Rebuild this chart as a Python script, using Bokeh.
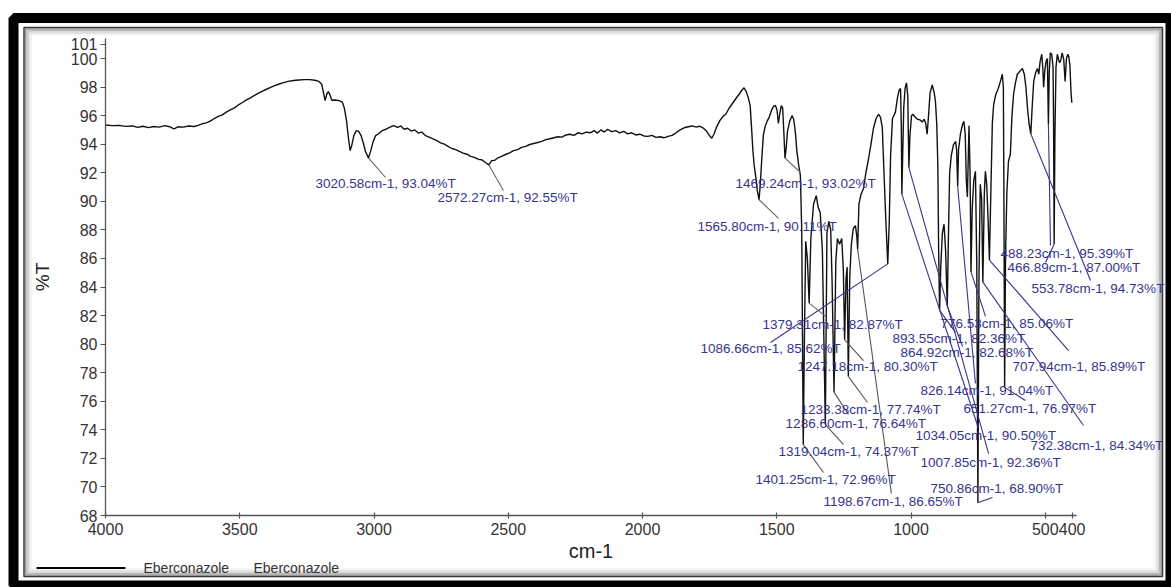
from bokeh.plotting import figure
from bokeh.models import Range1d, FixedTicker, BoxAnnotation, Label, LabelSet, ColumnDataSource
from bokeh.core.properties import value
from bokeh.embed import file_html
from bokeh.resources import INLINE

# Recorded trace of the spectrum (wavenumber in cm-1, transmittance in %T)
trace_wn = [4000, 3975, 3950, 3925, 3900, 3880, 3860, 3840, 3820, 3800, 3780, 3760, 3745, 3730, 3710,
            3690, 3670, 3655, 3640, 3625, 3610, 3595, 3580, 3565, 3550, 3535, 3520, 3505, 3490, 3475,
            3460, 3445, 3430, 3415, 3400, 3385, 3370, 3355, 3340, 3320, 3300, 3280, 3260, 3240, 3220,
            3205, 3195, 3188, 3182, 3176, 3170, 3164, 3157, 3145, 3130, 3118, 3110, 3102, 3095, 3089,
            3083, 3075, 3066, 3057, 3048, 3040, 3032, 3012, 3003, 2994, 2982, 2970, 2955, 2940, 2927,
            2912, 2900, 2888, 2875, 2862, 2848, 2835, 2822, 2808, 2795, 2780, 2766, 2752, 2738, 2724,
            2710, 2696, 2682, 2668, 2654, 2640, 2626, 2612, 2598, 2585, 2562, 2550, 2538, 2525, 2510,
            2495, 2480, 2465, 2450, 2435, 2420, 2405, 2390, 2375, 2360, 2345, 2330, 2315, 2300, 2285,
            2270, 2255, 2240, 2225, 2210, 2195, 2180, 2168, 2155, 2142, 2130, 2115, 2100, 2085, 2070,
            2055, 2040, 2025, 2010, 1995, 1980, 1965, 1950, 1935, 1920, 1905, 1890, 1875, 1860, 1845,
            1830, 1815, 1800, 1788, 1775, 1763, 1752, 1742, 1734, 1724, 1712, 1700, 1690, 1678, 1665,
            1652, 1640, 1630, 1622, 1614, 1606, 1599, 1594, 1589, 1584, 1578, 1572, 1561, 1556, 1550,
            1544, 1536, 1528, 1520, 1512, 1505, 1499, 1494, 1489, 1483, 1478, 1474, 1465, 1460, 1452,
            1443, 1437, 1431, 1425, 1418, 1412, 1407, 1397, 1392, 1386, 1373, 1363, 1353, 1346, 1338,
            1330, 1313, 1306, 1299, 1294, 1280, 1274, 1266, 1258, 1252, 1242, 1238, 1228, 1222, 1215,
            1207, 1202, 1194, 1186, 1177, 1168, 1158, 1149, 1140, 1130, 1121, 1114, 1107, 1101, 1094,
            1081, 1076, 1069, 1058, 1050, 1044, 1039, 1036, 1031, 1027, 1022, 1017, 1012, 1010, 1004,
            998, 993, 985, 976, 966, 958, 951, 945, 940, 935, 929, 921, 914, 909, 904,
            900, 897, 889, 883, 877, 871, 860, 856, 850, 842, 834, 830, 823, 816, 808,
            803, 798, 794, 790, 787, 784, 780, 772, 766, 760, 755, 747, 742, 737, 727,
            723, 718, 713, 702, 697, 692, 684, 675, 667, 660, 656, 654, 648, 643, 637,
            630, 624, 618, 611, 604, 595, 585, 578, 572, 566, 560, 549, 543, 536, 529,
            524, 519, 513, 509, 506, 502, 497, 492, 485, 481, 476, 471, 469, 464, 460,
            455, 450, 446, 442, 437, 431, 426, 421, 416, 412, 408, 404, 401]
trace_t = [95.35, 95.30, 95.32, 95.25, 95.28, 95.18, 95.26, 95.16, 95.24, 95.20, 95.30, 95.22, 95.08, 95.22, 95.20,
           95.28, 95.24, 95.32, 95.42, 95.50, 95.62, 95.80, 95.95, 96.05, 96.25, 96.40, 96.55, 96.75, 96.92, 97.10,
           97.25, 97.42, 97.58, 97.72, 97.85, 97.98, 98.10, 98.20, 98.30, 98.40, 98.46, 98.50, 98.52, 98.52, 98.48,
           98.40, 98.22, 97.60, 97.05, 97.50, 97.68, 97.45, 97.08, 97.10, 97.05, 96.95, 96.50, 95.60, 94.40, 93.55,
           93.90, 94.60, 94.95, 94.90, 94.60, 94.10, 93.50, 93.55, 94.20, 94.60, 94.75, 94.95, 95.05, 95.20, 95.30,
           95.18, 95.28, 95.05, 95.12, 94.92, 95.00, 94.78, 94.85, 94.60, 94.50, 94.38, 94.25, 94.10, 94.00, 93.85,
           93.70, 93.62, 93.50, 93.38, 93.30, 93.15, 93.08, 92.95, 92.90, 92.72, 92.85, 92.88, 93.05, 93.15, 93.28,
           93.40, 93.55, 93.62, 93.78, 93.85, 93.98, 94.05, 94.12, 94.20, 94.32, 94.38, 94.45, 94.52, 94.50, 94.65,
           94.70, 94.62, 94.80, 94.72, 94.85, 94.80, 94.95, 94.78, 95.00, 94.85, 95.05, 94.88, 94.95, 94.80, 94.90,
           94.72, 94.80, 94.65, 94.70, 94.58, 94.55, 94.62, 94.48, 94.52, 94.45, 94.55, 94.62, 94.80, 95.00, 95.15,
           95.22, 95.28, 95.20, 95.26, 95.15, 94.95, 94.65, 94.42, 94.70, 95.20, 95.65, 95.95, 96.10, 96.50, 96.85,
           97.20, 97.50, 97.78, 97.95, 97.70, 97.25, 96.70, 95.20, 93.60, 92.50, 91.70, 90.70, 91.30, 92.90, 94.60,
           95.20, 95.60, 95.90, 96.35, 96.65, 96.72, 96.40, 95.45, 96.10, 96.70, 96.55, 95.00, 93.70, 94.90, 95.60,
           96.00, 95.75, 94.90, 93.50, 92.50, 91.80, 88.00, 80.50, 87.20, 86.00, 87.40, 89.80, 90.40, 89.60, 89.20,
           86.50, 87.80, 88.60, 88.00, 84.50, 85.80, 87.40, 87.00, 87.40, 85.20, 84.60, 85.40, 84.80, 87.00, 88.10,
           88.30, 87.60, 89.80, 90.50, 90.90, 92.00, 93.00, 94.00, 95.10, 95.80, 96.10, 95.90, 95.20, 92.20, 88.80,
           88.50, 93.20, 95.80, 96.25, 97.30, 97.80, 97.90, 95.20, 93.20, 96.60, 97.90, 98.30, 97.40, 94.80, 94.60,
           96.00, 96.10, 95.90, 95.75, 95.70, 95.55, 95.75, 95.45, 94.70, 95.90, 97.60, 98.15, 97.65, 97.00, 95.40,
           92.50, 86.50, 85.50, 87.80, 88.40, 86.50, 88.20, 92.00, 93.20, 93.95, 94.20, 93.60, 93.60, 94.70, 95.40,
           95.60, 94.70, 91.50, 90.30, 92.80, 95.30, 92.00, 89.50, 91.50, 92.10, 85.50, 84.50, 91.20, 90.20, 90.50,
           92.10, 91.20, 88.80, 91.20, 95.50, 96.80, 97.50, 97.90, 98.40, 98.90, 98.00, 90.50, 86.00, 90.60, 92.80,
           93.30, 96.00, 97.50, 98.30, 98.90, 99.10, 99.30, 98.90, 98.00, 96.50, 95.40, 96.50, 98.40, 99.00, 99.30,
           98.90, 99.80, 100.30, 99.30, 98.00, 99.10, 99.80, 100.00, 99.10, 100.40, 100.30, 99.40, 95.50, 94.50, 99.40,
           100.30, 99.90, 99.70, 99.90, 100.40, 99.90, 98.40, 100.00, 100.30, 100.10, 99.50, 97.60, 96.90]

# Labelled absorption minima
peak_wn = [3020.58, 2572.27, 1469.24, 1565.80, 1379.31, 1086.66, 1247.18, 1233.38, 1286.60,
           1319.04, 1401.25, 1198.67, 776.53, 893.55, 864.92, 707.94, 826.14, 651.27,
           1034.05, 732.38, 1007.85, 750.86, 488.23, 466.89, 553.78]
peak_t = [93.04, 92.55, 93.02, 90.11, 82.87, 85.62, 80.30, 77.74, 76.64,
          74.37, 72.96, 86.65, 85.06, 82.36, 82.68, 85.89, 91.04, 76.97,
          90.50, 84.34, 92.36, 68.90, 95.39, 87.00, 94.73]

x_ticks = [4000, 3500, 3000, 2500, 2000, 1500, 1000, 500, 400]
y_ticks = [68, 70, 72, 74, 76, 78, 80, 82, 84, 86, 88, 90, 92, 94, 96, 98, 100, 101]

series_name = "Eberconazole"

# Placement of each peak caption (text anchor) and the end of its leader line, in data units
label_x = [3218, 2763.5, 1654, 1795, 1553, 1784, 1423, 1411.5, 1467, 1493.5, 1579, 1326,
           890, 1069, 1039, 622, 965, 804.5, 983, 555, 965, 927.4, 667, 641, 551]
label_y = [91.25, 90.27, 91.25, 88.24, 81.38, 79.69, 78.43, 75.42, 74.44, 72.48, 70.52, 68.98,
           81.45, 80.39, 79.41, 78.43, 76.75, 75.49, 73.60, 72.90, 71.71, 69.89, 86.35, 85.37, 83.90]
lead_x = [2957, 2518, 1411.5, 1493.5, 1318, 1523, 1177, 1162, 1233, 1251, 1326, 1073,
          722.5, 834, 808, 413, 760, 573.6, 748.6, 357.5, 711, 696.5, 480.5, 499, 331.5]
lead_y = [91.67, 90.76, 92.02, 88.80, 81.94, 80.11, 78.85, 75.91, 75.07, 72.97, 71.01, 69.54,
          81.94, 80.82, 79.83, 79.55, 77.24, 76.05, 74.09, 74.30, 72.34, 69.26, 86.91, 85.72, 84.46]

W, H = 1171, 587
FONT = "Liberation Sans"
NAVY = "#35358f"

# The plot frame spans the whole page; the axes are pinned at 4000 cm-1 and 68 %T.
X0_PX, PX_PER_WN = 105, 0.2685      # pixel column of 4000 cm-1, pixels per cm-1
Y0_PX, PX_PER_T = 515, 14.28        # pixel row of 68 %T, pixels per %T
x_lo = 4000 + X0_PX / PX_PER_WN
x_hi = 4000 - (W - X0_PX) / PX_PER_WN
y_lo = 68 - (H - Y0_PX) / PX_PER_T
y_hi = 68 + Y0_PX / PX_PER_T

# Merge trace and labelled minima into one spectrum
pts = sorted(list(zip(trace_wn, trace_t)) + list(zip(peak_wn, peak_t)), key=lambda a: -a[0])
spec = ColumnDataSource(dict(wn=[a[0] for a in pts], t=[a[1] for a in pts]))

p = figure(width=W, height=H, output_backend="svg", toolbar_location=None,
           x_range=Range1d(x_lo, x_hi), y_range=Range1d(y_lo, y_hi),
           min_border=0, background_fill_color="white", border_fill_color="white")
p.title.visible = False
p.outline_line_color = None
p.xgrid.visible = False
p.ygrid.visible = False

p.line("wn", "t", source=spec, line_color="#111111", line_width=1.4)

# Leader lines from each caption to its minimum
lead_colors = ["#666666"] * 5 + [NAVY] + ["#555555"] * 6 + [NAVY] * 13
leads = ColumnDataSource(dict(x0=lead_x, y0=lead_y, x1=peak_wn, y1=peak_t, c=lead_colors))
p.segment("x0", "y0", "x1", "y1", source=leads, line_color="c", line_width=1.1)

captions = ColumnDataSource(dict(
    x=label_x, y=label_y,
    text=[f"{w:.2f}cm-1, {t:.2f}%T" for w, t in zip(peak_wn, peak_t)]))
p.add_layout(LabelSet(x="x", y="y", text="text", source=captions,
                      text_font=value(FONT), text_font_size="13.5px", text_color=NAVY,
                      text_align="left", text_baseline="middle"))

# Axes
for ax in (p.xaxis[0], p.yaxis[0]):
    ax.axis_line_color = "#555555"
    ax.axis_line_width = 1.3
    ax.major_tick_line_color = "#555555"
    ax.major_tick_line_width = 1.2
    ax.minor_tick_line_color = None
    ax.major_label_text_font = FONT
    ax.major_label_text_font_size = "16px"
    ax.major_label_text_color = "#333333"
    ax.axis_label_text_font = FONT
    ax.axis_label_text_font_style = "normal"
    ax.axis_label_text_color = "#222222"

p.xaxis.fixed_location = 68
p.xaxis.ticker = FixedTicker(ticks=x_ticks)
p.xaxis.bounds = (385, 4000)
p.xaxis.major_tick_in = 3
p.xaxis.major_tick_out = 3
p.xaxis.major_label_standoff = 4
p.xaxis.axis_label = "cm-1"
p.xaxis.axis_label_text_font_size = "20px"
p.xaxis.axis_label_standoff = 2

p.yaxis.fixed_location = 4000
p.yaxis.ticker = FixedTicker(ticks=y_ticks)
p.yaxis.bounds = (68, 101.4)
p.yaxis.major_tick_in = 0
p.yaxis.major_tick_out = 5
p.yaxis.major_label_standoff = 3
p.yaxis.axis_label = "%T"
p.yaxis.axis_label_text_font_size = "19px"
p.yaxis.axis_label_standoff = 15


def sbox(l, t, r, b, level="underlay", **kw):
    """Rectangle in page pixels, given with y measured from the top."""
    return BoxAnnotation(left=l, right=r, top=H - t, bottom=H - b,
                         left_units="screen", right_units="screen",
                         top_units="screen", bottom_units="screen",
                         level=level, line_alpha=1.0, **kw)


# Picture frame: heavy black border, thin inner rule and a soft inner shade
p.add_layout(sbox(13, 17.5, 1170, 585, level="overlay", fill_color=None, line_color="black", line_width=10))
shade = ["#9a9a9a", "#b8b8b8", "#d2d2d2", "#e6e6e6", "#f3f3f3"]
for i, c in enumerate(shade):
    o = 1.5 * (i + 1)
    p.add_layout(sbox(23.5 + o, 27 + o, 1162 - o, 576 - o, fill_color=None, line_color=c, line_width=1.5))
p.add_layout(sbox(23.5, 27, 1162, 576, fill_color=None, line_color="#3a3a3a", line_width=1.5))

# Legend row
p.add_layout(sbox(36, 566.5, 125, 568.5, level="annotation", fill_color="black", fill_alpha=1, line_color=None))
for lx in (143, 253):
    p.add_layout(Label(x=lx, y=H - 567, x_units="screen", y_units="screen", text=series_name,
                       text_font=FONT, text_font_size="14px", text_color="#333333",
                       text_baseline="middle", text_align="left"))

open("out.html", "w").write(file_html(p, INLINE))
